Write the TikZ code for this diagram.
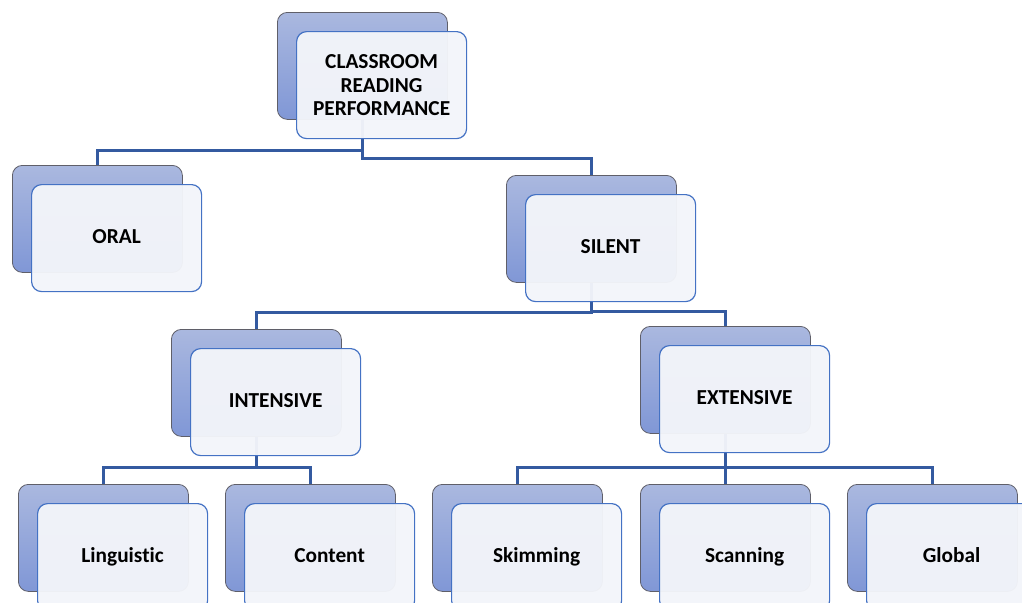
\documentclass[tikz,border=0pt]{standalone}
\usepackage{fontspec}
\setmainfont{Carlito}[Ligatures=CommonOff]
\usetikzlibrary{positioning, backgrounds}

\definecolor{tileTop}{RGB}{170,184,223}
\definecolor{tileBottom}{RGB}{128,151,214}
\definecolor{tileEdge}{RGB}{95,95,105}
\definecolor{cardFill}{RGB}{243,245,250}
\definecolor{cardEdge}{RGB}{68,114,196}
\definecolor{linkBlue}{RGB}{52,90,160}

\tikzset{
  backtile/.style={draw=tileEdge, line width=0.6pt, rounded corners=7.5pt,
    top color=tileTop, bottom color=tileBottom,
    minimum width=127.5pt, minimum height=80.25pt, inner sep=0pt, anchor=north west},
  card/.style={draw=cardEdge, line width=0.9pt, rounded corners=7.5pt,
    fill=cardFill, fill opacity=0.96, text opacity=1,
    minimum width=127.5pt, minimum height=80.25pt, inner sep=2pt, align=center,
    font=\fontsize{16}{17.5}\selectfont\bfseries},
  oneline/.style={text height=11pt, text depth=3.5pt},
  link/.style={draw=linkBlue, line width=2pt}
}

% back tile with its card on top
\newcommand{\readtile}[5][oneline]{%
  \node[backtile] (#2-b) at (#3,#4) {};
  \node[card, #1, below right=14.25pt and 14.25pt of #2-b.north west] (#2) {#5};
}

\begin{document}
\begin{tikzpicture}[x=0.75pt, y=-0.75pt]
    \useasboundingbox (0,0) rectangle (1022,603);
    \clip (0,0) rectangle (1022,603);

    % Tiles
    \readtile[]{crp}{277}{12}{CLASSROOM\\READING\\PERFORMANCE}
    \readtile{oral}{12}{165}{ORAL}
    \readtile{silent}{506}{175}{SILENT}
    \readtile{intensive}{171}{329}{INTENSIVE}
    \readtile{extensive}{640}{326}{EXTENSIVE}
    \readtile{linguistic}{18}{484}{Linguistic}
    \readtile{content}{225}{484}{Content}
    \readtile{skimming}{432}{484}{Skimming}
    \readtile{scanning}{640}{484}{Scanning}
    \readtile{global}{847}{484}{Global}

    % Connectors
    \begin{scope}[on background layer]
    \draw[link] (crp-b.south) -- ++(0,31) -| (oral-b.north);
    \draw[link] (crp-b.south) -- ++(0,39) -| (silent-b.north);
    \draw[link] (silent-b.south) -- ++(0,30) -| (intensive-b.north);
    \draw[link] (silent-b.south) -- ++(0,29) -| (extensive-b.north);
    \foreach \kid in {linguistic, content}
        \draw[link] (intensive-b.south) -- ++(0,31) -| (\kid-b.north);
    \foreach \kid in {skimming, scanning, global}
        \draw[link] (extensive-b.south) -- ++(0,34) -| (\kid-b.north);
    \end{scope}
\end{tikzpicture}
\end{document}
